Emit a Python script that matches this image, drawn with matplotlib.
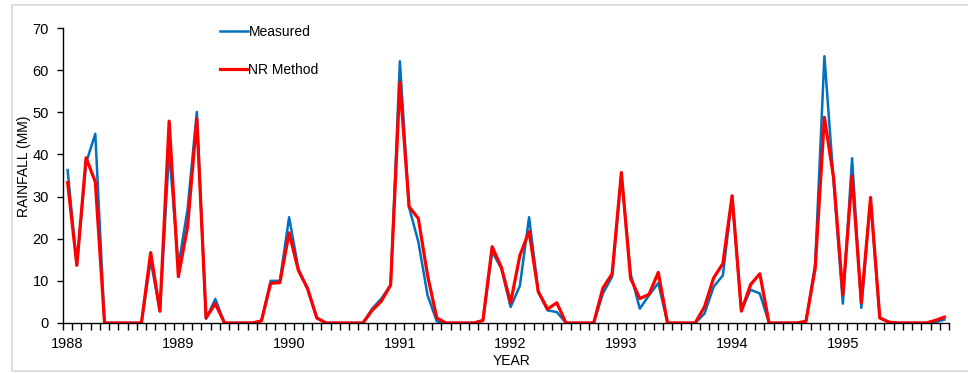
import numpy as np
import matplotlib
matplotlib.use("Agg")
import matplotlib.pyplot as plt
from matplotlib.patches import Rectangle

plt.rcParams["font.family"] = ["Liberation Sans", "DejaVu Sans"]

years = ["1988", "1989", "1990", "1991", "1992", "1993", "1994", "1995"]

# monthly rainfall (mm), Jan 1988 .. Dec 1995
measured = [
    36.3, 13.7, 38.0, 44.9, 0, 0, 0, 0, 0, 14.9, 2.8, 41.0,
    13.5, 27.0, 50.1, 1.0, 5.7, 0, 0, 0, 0, 0.5, 10.0, 10.0,
    25.1, 12.9, 8.0, 1.2, 0, 0, 0, 0, 0, 3.4, 5.8, 9.0,
    62.1, 27.4, 19.3, 6.6, 0.4, 0, 0, 0, 0, 0.6, 16.9, 12.9,
    3.8, 8.8, 25.1, 7.4, 3.0, 2.6, 0, 0, 0, 0, 7.0, 11.0,
    35.2, 11.7, 3.4, 6.6, 9.5, 0, 0, 0, 0, 2.2, 8.6, 11.3,
    30.0, 3.0, 7.9, 7.0, 0, 0, 0, 0, 0.4, 14.0, 63.3, 33.5,
    4.6, 39.1, 3.6, 29.2, 1.2, 0.2, 0, 0, 0, 0, 0.2, 0.8,
]
nr_method = [
    33.3, 13.7, 39.2, 33.5, 0, 0, 0, 0, 0, 16.7, 2.8, 47.9,
    11.0, 22.9, 48.5, 1.2, 4.6, 0, 0, 0, 0, 0.5, 9.4, 9.6,
    21.4, 12.5, 8.2, 1.2, 0, 0, 0, 0, 0, 3.0, 5.2, 9.0,
    57.1, 27.6, 24.8, 11.3, 1.2, 0, 0, 0, 0, 0.6, 18.1, 13.2,
    4.8, 16.0, 21.7, 7.4, 3.3, 4.8, 0, 0, 0, 0, 8.3, 11.7,
    35.7, 10.6, 5.8, 6.8, 12.0, 0, 0, 0, 0, 3.8, 10.7, 14.1,
    30.2, 2.8, 9.1, 11.7, 0, 0, 0, 0, 0.4, 12.9, 48.8, 34.4,
    6.7, 34.9, 4.8, 29.8, 1.2, 0.2, 0, 0, 0, 0, 0.6, 1.4,
]

months = np.arange(len(measured))

fig = plt.figure(figsize=(9.68, 3.73), dpi=100)
fig.patches.append(Rectangle((12 / 968, 2 / 373), 1.0, 366 / 373, transform=fig.transFigure,
                             fill=False, edgecolor="#d9d9d9", lw=1.2))
ax = fig.add_axes([63 / 968, 1 - 323 / 373, 886 / 968, 295 / 373])

ax.plot(months, measured, color="#0070C0", lw=1.8, label="Measured")
ax.plot(months, nr_method, color="#FF0000", lw=2.3, label="NR Method")

ax.set_xlim(-0.5, len(measured) - 0.5)
ax.set_ylim(0, 70)
ax.set_yticks(range(0, 71, 10))

# category-style axis: ticks between months, year labels under January
ax.set_xticks(np.arange(-0.5, len(measured), 1.0))
ax.set_xticklabels([])
ax.set_xticks(np.arange(0, len(measured), 12), minor=True)
ax.set_xticklabels(years, minor=True, fontsize=10.5)
ax.tick_params(axis="x", which="major", length=5, width=1, direction="out")
ax.tick_params(axis="x", which="minor", length=0, pad=10)
ax.tick_params(axis="y", length=4, width=1, pad=6, labelsize=10.5)

for s in ["top", "right"]:
    ax.spines[s].set_visible(False)
for s in ["left", "bottom"]:
    ax.spines[s].set_linewidth(1)

ax.set_ylabel("RAINFALL (MM)", fontsize=10)
ax.yaxis.set_label_coords(-0.036, 0.53)
ax.set_xlabel("YEAR", fontsize=10)
ax.xaxis.set_label_coords(0.506, -0.105)

fig.legend(loc="upper left", bbox_to_anchor=(220 / 968, 1 - 25 / 373), frameon=False,
           fontsize=10, handlelength=2.0, handletextpad=0.05, labelspacing=1.75,
           borderpad=0, borderaxespad=0)

fig.savefig("out.png", dpi=100)
